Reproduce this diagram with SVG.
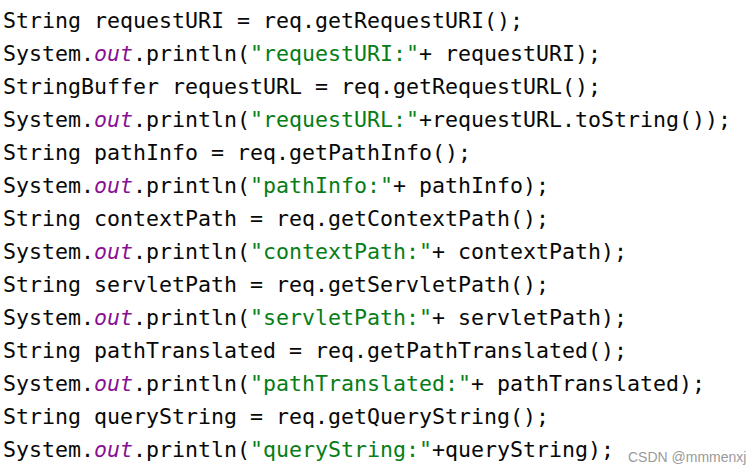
<svg xmlns="http://www.w3.org/2000/svg" width="746" height="472" viewBox="0 0 746 472">
<style>
.c{font-family:"DejaVu Sans Mono","Liberation Mono",monospace;font-size:21.6px;fill:#080808;white-space:pre}
.k{fill:#871094;font-style:italic}
.s{fill:#067d17}
.w{font-family:"Liberation Sans",Arial,sans-serif;font-size:14px;fill:#9a9a9a}
</style>
<rect width="746" height="472" fill="#ffffff"/>
<g id="code" class="c" xml:space="preserve">
<text x="3" y="28">String requestURI = req.getRequestURI();</text>
<text x="3" y="61">System.<tspan class="k">out</tspan>.println(<tspan class="s">"requestURI:"</tspan>+ requestURI);</text>
<text x="3" y="94">StringBuffer requestURL = req.getRequestURL();</text>
<text x="3" y="127">System.<tspan class="k">out</tspan>.println(<tspan class="s">"requestURL:"</tspan>+requestURL.toString());</text>
<text x="3" y="160">String pathInfo = req.getPathInfo();</text>
<text x="3" y="193">System.<tspan class="k">out</tspan>.println(<tspan class="s">"pathInfo:"</tspan>+ pathInfo);</text>
<text x="3" y="226">String contextPath = req.getContextPath();</text>
<text x="3" y="259">System.<tspan class="k">out</tspan>.println(<tspan class="s">"contextPath:"</tspan>+ contextPath);</text>
<text x="3" y="292">String servletPath = req.getServletPath();</text>
<text x="3" y="325">System.<tspan class="k">out</tspan>.println(<tspan class="s">"servletPath:"</tspan>+ servletPath);</text>
<text x="3" y="358">String pathTranslated = req.getPathTranslated();</text>
<text x="3" y="391">System.<tspan class="k">out</tspan>.println(<tspan class="s">"pathTranslated:"</tspan>+ pathTranslated);</text>
<text x="3" y="424">String queryString = req.getQueryString();</text>
<text x="3" y="457">System.<tspan class="k">out</tspan>.println(<tspan class="s">"queryString:"</tspan>+queryString);</text>
</g>
<g id="watermark">
<text class="w" x="628" y="462">CSDN @mmmenxj</text>
</g>
</svg>
